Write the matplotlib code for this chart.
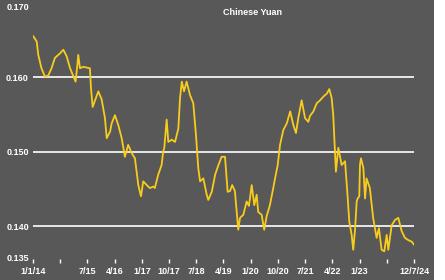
import numpy as np
import pandas as pd
import matplotlib
matplotlib.use("Agg")
import matplotlib.pyplot as plt
from matplotlib.patches import Rectangle

# CNY in USD
dates = [
    "2014-01-04", "2014-02-07", "2014-02-23", "2014-03-27", "2014-04-30", "2014-06-02",
    "2014-07-06", "2014-08-09", "2014-09-29", "2014-11-01", "2014-12-05", "2015-01-08",
    "2015-02-10", "2015-03-04", "2015-03-20", "2015-03-31", "2015-04-17", "2015-05-20",
    "2015-07-26", "2015-08-06", "2015-08-23", "2015-09-16", "2015-10-19", "2015-11-22",
    "2015-12-25", "2016-01-12", "2016-02-15", "2016-03-02", "2016-04-04", "2016-05-07",
    "2016-06-11", "2016-07-14", "2016-08-16", "2016-09-20", "2016-10-23", "2016-11-26",
    "2016-12-23", "2017-01-15", "2017-02-19", "2017-03-22", "2017-04-25", "2017-05-11",
    "2017-06-14", "2017-07-18", "2017-08-03", "2017-08-14", "2017-09-07", "2017-09-23",
    "2017-10-27", "2017-11-30", "2018-01-02", "2018-01-19", "2018-02-06", "2018-02-28",
    "2018-03-26", "2018-04-29", "2018-06-01", "2018-06-28", "2018-07-21", "2018-08-08",
    "2018-09-10", "2018-10-14", "2018-10-30", "2018-12-04", "2019-01-07", "2019-02-09",
    "2019-03-13", "2019-04-16", "2019-05-13", "2019-06-06", "2019-06-28", "2019-07-25",
    "2019-08-12", "2019-08-28", "2019-09-15", "2019-10-18", "2019-11-21", "2019-12-14",
    "2020-01-11", "2020-02-06", "2020-03-01", "2020-03-16", "2020-04-20", "2020-05-16",
    "2020-06-09", "2020-07-12", "2020-08-15", "2020-09-02", "2020-09-29", "2020-10-22",
    "2020-11-24", "2020-12-29", "2021-02-01", "2021-03-04", "2021-03-31", "2021-04-23",
    "2021-05-27", "2021-06-30", "2021-08-02", "2021-08-19", "2021-09-22", "2021-10-26",
    "2021-11-29", "2022-01-01", "2022-02-05", "2022-03-01", "2022-03-25", "2022-04-10",
    "2022-04-27", "2022-05-07", "2022-05-31", "2022-07-04", "2022-08-07", "2022-08-30",
    "2022-09-19", "2022-10-13", "2022-10-29", "2022-11-16", "2022-12-03", "2022-12-13",
    "2022-12-29", "2023-01-05", "2023-01-15", "2023-02-08", "2023-02-25", "2023-03-12",
    "2023-04-14", "2023-05-17", "2023-06-21", "2023-07-14", "2023-08-10", "2023-09-06",
    "2023-09-30", "2023-10-25", "2023-12-18", "2024-02-08", "2024-04-01", "2024-05-25",
    "2024-07-17", "2024-09-07", "2024-10-31", "2024-12-07",
]
values = [
    0.1655, 0.1648, 0.1630, 0.1612, 0.1601, 0.1602,
    0.1612, 0.1626, 0.1632, 0.1637, 0.1628, 0.1612,
    0.1601, 0.1594, 0.1614, 0.1630, 0.1612, 0.1614,
    0.1612, 0.1585, 0.1560, 0.1569, 0.1581, 0.1570,
    0.1545, 0.1518, 0.1527, 0.1538, 0.1549, 0.1536,
    0.1518, 0.1493, 0.1509, 0.1498, 0.1491, 0.1455,
    0.1440, 0.1460, 0.1455, 0.1451, 0.1453, 0.1451,
    0.1469, 0.1482, 0.1500, 0.1505, 0.1543, 0.1513,
    0.1516, 0.1513, 0.1531, 0.1572, 0.1594, 0.1581,
    0.1594, 0.1576, 0.1565, 0.1522, 0.1478, 0.1460,
    0.1464, 0.1442, 0.1435, 0.1446, 0.1469, 0.1482,
    0.1493, 0.1493, 0.1446, 0.1447, 0.1455, 0.1447,
    0.1419, 0.1395, 0.1411, 0.1415, 0.1433, 0.1427,
    0.1455, 0.1428, 0.1442, 0.1419, 0.1415, 0.1395,
    0.1413, 0.1428, 0.1451, 0.1464, 0.1482, 0.1509,
    0.1529, 0.1538, 0.1554, 0.1536, 0.1525, 0.1545,
    0.1569, 0.1545, 0.1540, 0.1548, 0.1554, 0.1565,
    0.1569, 0.1574, 0.1578, 0.1584, 0.1572, 0.1549,
    0.1500, 0.1473, 0.1505, 0.1482, 0.1487, 0.1446,
    0.1406, 0.1388, 0.1368, 0.1395, 0.1433, 0.1437,
    0.1440, 0.1482, 0.1491, 0.1478, 0.1437, 0.1464,
    0.1451, 0.1411, 0.1384, 0.1397, 0.1368, 0.1366,
    0.1388, 0.1368, 0.1401, 0.1408, 0.1411, 0.1393,
    0.1384, 0.1381, 0.1379, 0.1375,
]

tick_dates = ["2014-01-01", "2014-10-01", "2015-07-01", "2016-04-01", "2017-01-01",
              "2017-10-01", "2018-07-01", "2019-04-01", "2020-01-01", "2020-10-01",
              "2021-07-01", "2022-04-01", "2023-01-01", "2023-10-01", "2024-12-07"]
tick_labels = ["1/1/14", "", "7/15", "4/16", "1/17", "10/17", "7/18", "4/19",
               "1/20", "10/20", "7/21", "4/22", "1/23", "", "12/7/24"]
y_ticks = [0.135, 0.140, 0.150, 0.160, 0.170]
grid_levels = [0.140, 0.150, 0.160]

bg = "#585858"
yellow = "#f8cc1c"
plt.rcParams["font.family"] = ["Liberation Sans", "DejaVu Sans"]

# ordinal axis: ticks are evenly spaced whatever the gap between dates
t = pd.to_datetime(dates).values.astype("int64")
tt = pd.to_datetime(tick_dates).values.astype("int64")
xpos = np.interp(t, tt, np.arange(len(tt)))

fig = plt.figure(figsize=(4.45, 2.8), dpi=100, facecolor=bg)
# white strip on the right edge
fig.patches.append(Rectangle((434 / 445, 0), 11 / 445, 1, transform=fig.transFigure,
                             facecolor="white", edgecolor="none", zorder=-1))
ax = fig.add_axes([33 / 445, 1 - 263.2 / 280, 381 / 445, 260.4 / 280])
ax.set_facecolor(bg)
for s in ax.spines.values():
    s.set_visible(False)

for g in grid_levels:
    ax.axhline(g, color="white", lw=1.2, zorder=1)
ax.plot(xpos, values, color=yellow, lw=1.3, zorder=2)

ax.set_xlim(0, len(tt) - 1)
ax.set_ylim(0.135, 0.170)
ax.set_xticks(np.arange(len(tt)))
ax.set_xticklabels(tick_labels)
ax.set_yticks(y_ticks)
ax.set_yticklabels([f"{v:.3f}" for v in y_ticks])
ax.tick_params(axis="x", direction="in", length=3, width=1, color="white",
               labelcolor="white", labelsize=6.5, pad=2.5)
ax.tick_params(axis="y", length=0, labelcolor="white", labelsize=6.5, pad=3)
for lab in ax.get_xticklabels() + ax.get_yticklabels():
    lab.set_fontweight("bold")
ylabs = ax.get_yticklabels()
ylabs[0].set_va("bottom")
ylabs[-1].set_va("top")

ax.text(0.577, 0.962, "Chinese Yuan", transform=ax.transAxes, ha="center",
        va="center", color="white", fontsize=6.5, fontweight="bold")

fig.savefig("out.png", dpi=100, facecolor=fig.get_facecolor())
